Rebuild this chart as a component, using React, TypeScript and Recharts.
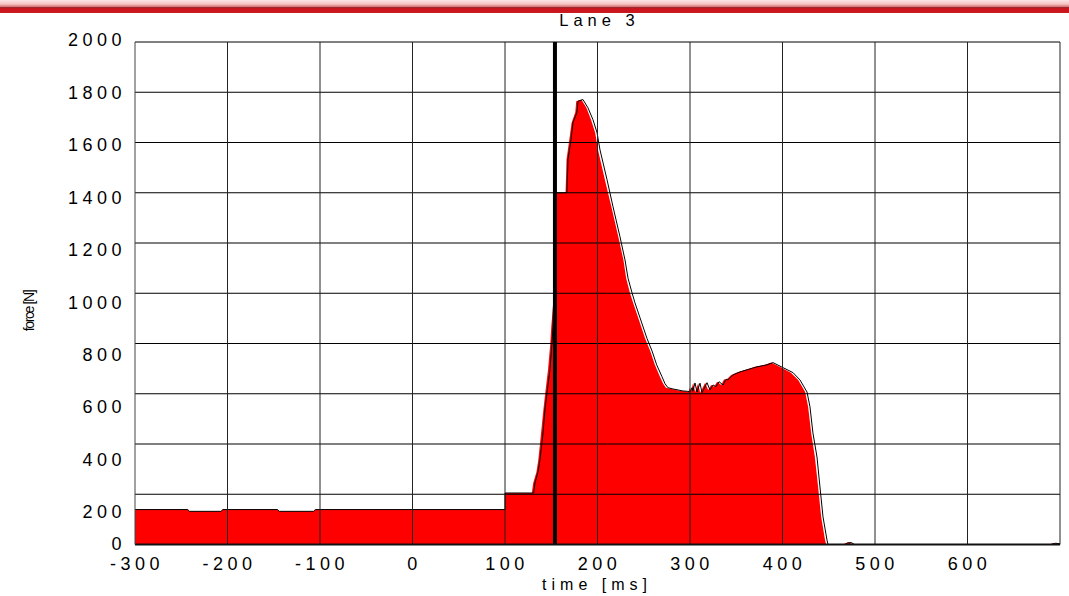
import React from "react";
import {
  ComposedChart,
  Area,
  Line,
  XAxis,
  YAxis,
  ReferenceLine,
} from "recharts";

// axis ticks
const xTicks = [-300, -200, -100, 0, 100, 200, 300, 400, 500, 600, 700];
const yTicks = [0, 200, 400, 600, 800, 1000, 1200, 1400, 1600, 1800, 2000];
const markerTime = 154;

// red filled trace
const areaTime = [
  -300, -243, -241, -207, -205, -146, -144, -107, -105, 100, 100, 129, 130.5, 134, 136, 139,
  141.5, 143.5, 146.5, 149, 150, 153, 155, 157, 164.5, 165.5, 166.5, 169.5, 172, 176, 177,
  182.5, 188, 193, 197.5, 200.5, 208, 215, 222.5, 228, 231, 235, 238.5, 244, 251.5, 257, 262,
  267.5, 271, 274, 280, 284, 290, 295, 298, 300, 301, 303.4, 305.6, 308.8, 311, 316.4, 319.6,
  322.9, 326, 329.4, 333.7, 336.9, 339, 344.5, 352, 363, 370, 381, 387.7, 392, 398.5, 409, 417,
  424.5, 427.7, 431, 435, 438.5, 441.8, 446, 447.2, 466, 468, 472, 476, 688, 693, 698,
];
const areaForce = [
  139, 139, 132, 132, 139, 139, 132, 132, 139, 139, 205, 205, 245, 289, 336, 444,
  536, 603, 696, 802, 866, 1000, 1400, 1400, 1400, 1404, 1532, 1611, 1679, 1720, 1764,
  1771, 1738, 1691, 1639, 1571, 1452, 1344, 1225, 1133, 1060, 1002, 962, 902, 820, 770, 715,
  668, 640, 624, 619, 616, 611, 610, 607, 624, 610, 643, 607, 642, 604, 644, 615,
  635, 628, 648, 635, 658, 655, 675, 687, 699, 707, 715, 724, 716, 704, 684, 655,
  607, 548, 444, 348, 229, 110, 18, 0, 0, 6, 8, 0, 0, 5, 3,
];

// black outline trace
const lineTime = [
  -300, -243, -241, -207, -205, -146, -144, -107, -105, 100, 100, 131, 132.4, 135.7, 137.8, 141.1,
  143.2, 145.4, 148.6, 150.8, 151.9, 155, 166.5, 167, 168.1, 171.4, 173.5, 177.8, 178.9,
  184.3, 189.7, 195.1, 199.5, 202.7, 210.3, 216.8, 224.3, 229.7, 233, 237.3, 240.5, 246,
  253.5, 259, 264, 269.7, 273, 276.2, 281.6, 285.9, 292.4, 296.8, 300, 302.2, 303, 305.4,
  307.6, 310.8, 313, 318.4, 321.6, 324.9, 328, 331.4, 335.7, 338.9, 341, 346.5, 354.1, 364.9,
  372.4, 383.2, 389.7, 394.1, 400.5, 411.4, 418.9, 426.5, 429.7, 432.9, 437.3, 440.5, 443.8,
  448.1, 449.2, 468, 470, 474, 478, 690, 695, 700,
];
const lineForce = [
  139, 139, 132, 132, 139, 139, 132, 132, 139, 139, 205, 205, 245, 289, 336, 444,
  536, 603, 696, 802, 866, 1400, 1400, 1404, 1532, 1611, 1679, 1720, 1764,
  1771, 1738, 1691, 1639, 1571, 1452, 1344, 1225, 1133, 1060, 1002, 962, 902,
  820, 770, 715, 668, 640, 624, 619, 616, 611, 610, 607, 624, 610, 643,
  607, 642, 604, 644, 615, 635, 628, 648, 635, 658, 655, 675, 687, 699,
  707, 715, 724, 716, 704, 684, 655, 607, 548, 444, 348, 229, 110,
  18, 0, 0, 6, 8, 0, 0, 5, 3,
];

const rows = [
  ...areaTime.map((t, i) => ({ t, area: areaForce[i] })),
  ...lineTime.map((t, i) => ({ t, line: lineForce[i] })),
].sort((a, b) => a.t - b.t);

const font = "'Liberation Sans', Arial, sans-serif";

const YTick = ({ y, payload }: any) => {
  const v = payload.value;
  const shift = v === 0 ? -1 : ((2000 - v) / 200) * 2.2 - 2;
  return (
    <text
      x={126}
      y={y + shift}
      dy="0.35em"
      textAnchor="end"
      fontFamily={font}
      fontSize={18}
      letterSpacing={4.5}
      fill="#000"
    >
      {v}
    </text>
  );
};

const XTick = ({ x, payload }: any) => {
  if (payload.value === 700) return null;
  return (
    <text
      x={x + 2}
      y={570}
      textAnchor="middle"
      fontFamily={font}
      fontSize={18}
      letterSpacing={4.5}
      fill="#000"
    >
      {payload.value}
    </text>
  );
};

export default function App() {
  return (
    <div style={{ position: "relative", width: 1069, height: 596, background: "#fff" }}>
      <style>{`body{margin:0}`}</style>
      <ComposedChart
        width={1069}
        height={596}
        data={rows}
        margin={{ top: 42, right: 9, bottom: 21.5, left: 0 }}
      >
        <XAxis
          type="number"
          dataKey="t"
          domain={[-300, 700]}
          ticks={xTicks}
          allowDataOverflow
          height={30}
          tickLine={false}
          axisLine={{ stroke: "#111", strokeWidth: 2 }}
          tick={<XTick />}
        />
        <YAxis
          type="number"
          domain={[0, 2000]}
          ticks={yTicks}
          allowDataOverflow
          width={135}
          tickLine={false}
          axisLine={{ stroke: "#444" }}
          tick={<YTick />}
        />
        <Area
          type="linear"
          dataKey="area"
          stroke="none"
          fill="#ff0000"
          fillOpacity={1}
          connectNulls
          dot={false}
          activeDot={false}
          isAnimationActive={false}
        />
        <Line
          type="linear"
          dataKey="line"
          stroke="#000"
          strokeWidth={1}
          connectNulls
          dot={false}
          activeDot={false}
          isAnimationActive={false}
        />
        {yTicks.slice(1).map((v) => (
          <ReferenceLine key={"h" + v} y={v} stroke="#000" strokeWidth={1} />
        ))}
        {xTicks.slice(1).map((v) => (
          <ReferenceLine key={"v" + v} x={v} stroke="#222" strokeWidth={1} />
        ))}
        <ReferenceLine x={markerTime} stroke="#000" strokeWidth={4} />
      </ComposedChart>

      <div
        style={{
          position: "absolute",
          left: 0,
          top: 0,
          width: 1069,
          height: 13,
          background:
            "linear-gradient(to bottom, #fbe6e6 0px, #f5c4c4 4px, #dc7a7a 6.5px, #9c2a32 7.5px, #c8141c 8.5px, #cc1a20 13px)",
        }}
      />
      <div
        style={{
          position: "absolute",
          left: 0,
          width: 1069,
          top: 12,
          textAlign: "center",
          fontFamily: font,
          fontSize: 16.5,
          lineHeight: "16px",
          letterSpacing: 5,
          paddingLeft: 130,
          boxSizing: "border-box",
        }}
      >
        Lane 3
      </div>
      <div
        style={{
          position: "absolute",
          left: 0,
          width: 1069,
          top: 577,
          textAlign: "center",
          fontFamily: font,
          fontSize: 16,
          lineHeight: "16px",
          letterSpacing: 5,
          paddingLeft: 125,
          boxSizing: "border-box",
        }}
      >
        time [ms]
      </div>
      <div
        style={{
          position: "absolute",
          left: 29,
          top: 311,
          fontFamily: font,
          fontSize: 14,
          lineHeight: "14px",
          letterSpacing: -1.4,
          whiteSpace: "nowrap",
          transform: "translate(-50%, -50%) rotate(-90deg)",
        }}
      >
        force [N]
      </div>
    </div>
  );
}
